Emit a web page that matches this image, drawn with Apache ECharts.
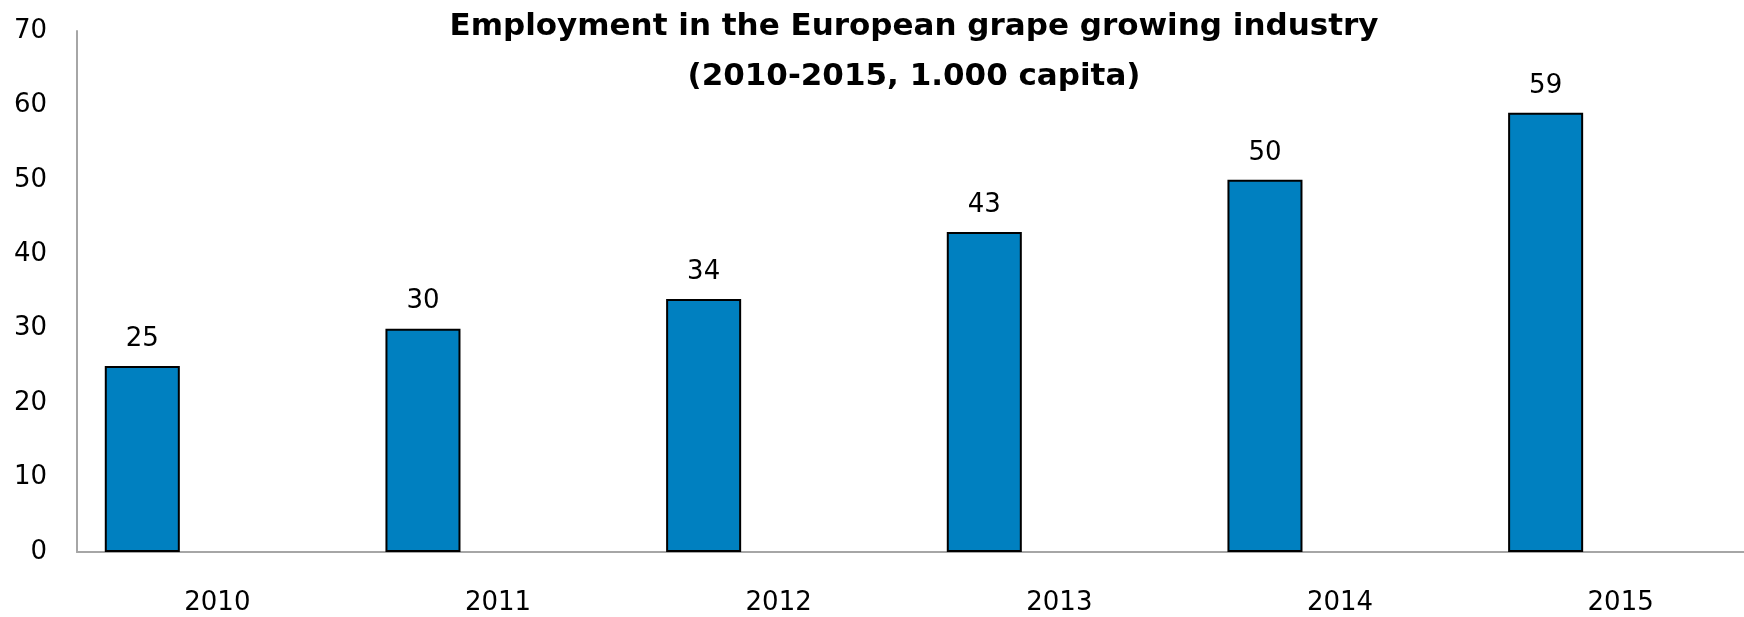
<!DOCTYPE html>
<html>
<head>
<meta charset="utf-8">
<script src="https://cdn.jsdelivr.net/npm/echarts@6/dist/echarts.min.js"></script>
<style>
html,body{margin:0;padding:0;background:#fff;}
#chart{width:1744px;height:617px;}
</style>
</head>
<body>
<div id="chart"></div>
<script>
const titleText = 'Employment in the European grape growing industry\n(2010-2015, 1.000 capita)';
const categories = ['2010', '2011', '2012', '2013', '2014', '2015'];
const employment = [25, 30, 34, 43, 50, 59];
const emptySeriesA = [null, null, null, null, null, null];
const emptySeriesB = [null, null, null, null, null, null];
const yMin = 0, yMax = 70, yInterval = 10;

const FONT = 'DejaVu Sans';
const chart = echarts.init(document.getElementById('chart'), null, {renderer: 'canvas'});
chart.setOption({
  animation: false,
  backgroundColor: '#ffffff',
  title: {
    text: titleText,
    left: 909,
    top: -3,
    textAlign: 'center',
    textStyle: {fontFamily: FONT, fontWeight: 'bold', fontSize: 31, color: '#000', lineHeight: 50}
  },
  grid: {left: 77, right: -17, top: 31, bottom: 65, containLabel: false, outerBoundsMode: 'none'},
  xAxis: {
    type: 'category',
    data: categories,
    axisLine: {lineStyle: {color: '#A6A6A6', width: 2}},
    axisTick: {show: false},
    axisLabel: {fontFamily: FONT, fontSize: 26, color: '#000', margin: 38}
  },
  yAxis: {
    type: 'value',
    min: yMin, max: yMax, interval: yInterval,
    axisLine: {show: true, lineStyle: {color: '#A6A6A6', width: 2}},
    axisTick: {show: false},
    splitLine: {show: false},
    axisLabel: {fontFamily: FONT, fontSize: 26, color: '#000', margin: 30}
  },
  series: [
    {
      type: 'bar', name: 'Employment', data: employment,
      barGap: '0%', barCategoryGap: '19.8%',
      itemStyle: {color: '#0080C0', borderColor: '#000', borderWidth: 2},
      label: {show: true, position: 'top', distance: 14, fontFamily: FONT, fontSize: 26, color: '#000'}
    },
    {type: 'bar', name: 'A', data: emptySeriesA, barGap: '0%', barCategoryGap: '19.8%'},
    {type: 'bar', name: 'B', data: emptySeriesB, barGap: '0%', barCategoryGap: '19.8%'}
  ]
});
</script>
</body>
</html>
